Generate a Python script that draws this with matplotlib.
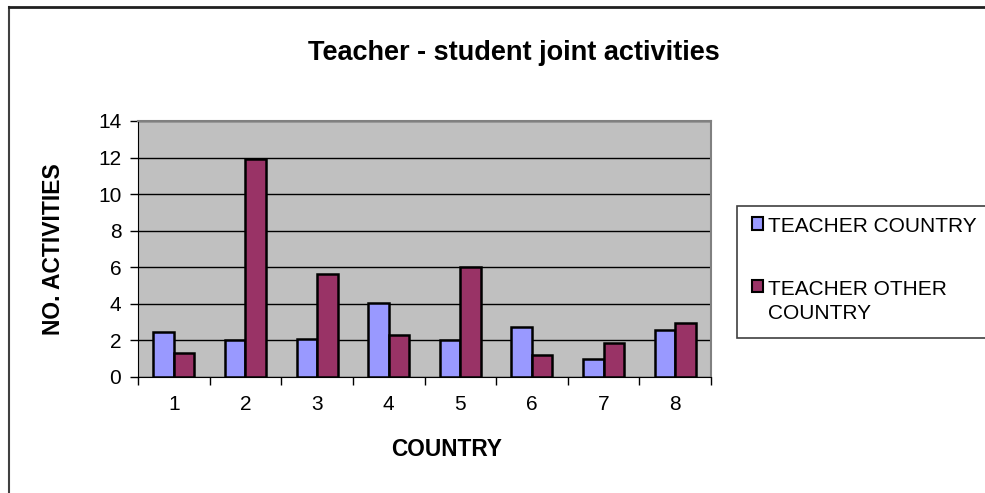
import matplotlib
matplotlib.use("Agg")
import matplotlib.pyplot as plt
import numpy as np
from matplotlib.patches import Rectangle
from matplotlib.lines import Line2D

countries = ["1", "2", "3", "4", "5", "6", "7", "8"]
teacher_country = [2.45, 2.0, 2.1, 4.05, 2.0, 2.75, 1.0, 2.55]
teacher_other = [1.3, 11.9, 5.65, 2.3, 6.0, 1.2, 1.85, 2.95]
series_labels = ["TEACHER COUNTRY", "TEACHER OTHER\nCOUNTRY"]

W, H = 985, 493
plt.rcParams["font.family"] = ["Liberation Sans", "DejaVu Sans"]

fig = plt.figure(figsize=(W / 100, H / 100), dpi=100)
ax = fig.add_axes([138 / W, 1 - 377 / H, 573 / W, 256 / H])
ax.set_facecolor("#C0C0C0")

x = np.arange(len(countries))
bw = 1 / 3.5
b1 = ax.bar(x - bw / 2, teacher_country, bw, color="#9999FF", edgecolor="black",
            linewidth=1.8, zorder=3, label=series_labels[0])
b2 = ax.bar(x + bw / 2, teacher_other, bw, color="#993366", edgecolor="black",
            linewidth=1.8, zorder=3, label=series_labels[1])

ax.set_xlim(-0.5, len(countries) - 0.5)
ax.set_ylim(0, 14)
ax.set_yticks(range(0, 15, 2))
ax.yaxis.grid(True, color="black", linewidth=1.0, zorder=1)
ax.set_xticks(x)
ax.set_xticklabels(countries)
ax.set_xticks(np.arange(-0.5, len(countries)), minor=True)
ax.tick_params(axis="x", which="major", length=0, pad=13, labelsize=15)
ax.tick_params(axis="x", which="minor", length=6, width=1, direction="out")
ax.tick_params(axis="y", length=6, width=1, direction="out", pad=6, labelsize=15)

for s in ["top", "right"]:
    ax.spines[s].set_color("#808080")
    ax.spines[s].set_linewidth(1.5)
ax.spines["left"].set_color("black")
ax.spines["bottom"].set_color("black")

fig.text(514 / W, 1 - 53 / H, "Teacher - student joint activities", ha="center",
         va="center", fontsize=19.5, fontweight="bold")
fig.text(447 / W, 1 - 449 / H, "COUNTRY", ha="center", va="center",
         fontsize=16.3, fontweight="bold")
fig.text(54 / W, 1 - 249 / H, "NO. ACTIVITIES", ha="center", va="center",
         rotation=90, fontsize=16.5, fontweight="bold")

# outer chart frame (only top and left visible)
fig.add_artist(Line2D([8.5 / W, 8.5 / W], [0, 1 - 7 / H], transform=fig.transFigure,
                      color="#404040", linewidth=1.5))
fig.add_artist(Line2D([8.5 / W, 1], [1 - 7 / H, 1 - 7 / H], transform=fig.transFigure,
                      color="#202020", linewidth=2))

# legend box
fig.add_artist(Rectangle((737 / W, 1 - 338 / H), (1000 - 737) / W, 132 / H,
                         transform=fig.transFigure, facecolor="white",
                         edgecolor="#404040", linewidth=1.2))
leg = fig.legend(handles=[b1, b2], labels=series_labels, loc="upper left",
                 bbox_to_anchor=(752 / W, 1 - 217 / H), frameon=False,
                 fontsize=15, handlelength=0.55, handleheight=0.55,
                 handletextpad=0.2, labelspacing=2.1, borderaxespad=0,
                 borderpad=0)
for h in leg.legend_handles:
    h.set_linewidth(1.5)
for t in leg.get_texts():
    t.set_linespacing(1.35)
# put the marker next to the first line of a wrapped label
for col in leg._legend_handle_box.get_children():
    for item in col.get_children():
        item.align = "top"

fig.savefig("out.png", dpi=100)
